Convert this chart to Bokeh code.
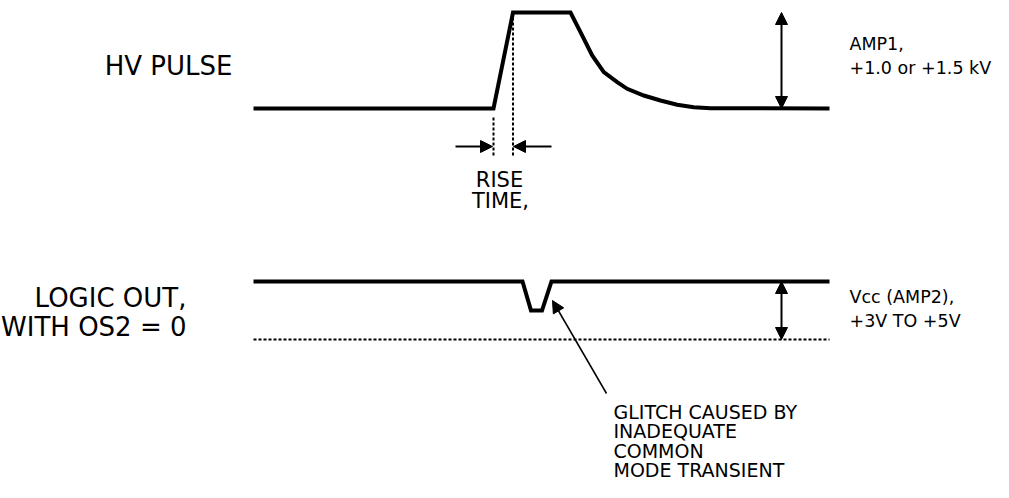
from bokeh.plotting import figure
from bokeh.models import Range1d, Arrow, NormalHead, ColumnDataSource
from bokeh.core.properties import value
from bokeh.embed import file_html
from bokeh.resources import INLINE

# ---- data (in page pixels) ----
hv_x = [253, 493, 512.5, 570, 580, 591.7, 603.3, 616.7, 626.7, 643.3, 660, 676.7, 693.3, 710, 829]
hv_y = [108, 108, 12, 12, 31.7, 55, 71.7, 81.7, 88.3, 95, 100, 104.3, 106.7, 107.7, 108]

logic_x = [253, 522, 530.5, 541.5, 551, 829]
logic_y = [281, 281, 310, 310, 281, 281]

ground_x = [253, 829]
ground_y = [339, 339]

rise_marks_x = [493, 512.5]
rise_marks_top = [117, 12]
rise_marks_bottom = [157, 157]

amp_arrows_x = [781, 781]
amp_arrows_y0 = [12, 281]
amp_arrows_y1 = [108, 339]

rise_arrows_x0 = [455, 551]
rise_arrows_x1 = [492, 513]
rise_arrows_y = [146, 146]

glitch_arrow = dict(x0=606, y0=393, x1=552, y1=300)

left_labels = ["HV PULSE", "LOGIC OUT,", "WITH OS2 = 0"]
left_x = [232, 186, 186]
left_y = [65.5, 297.5, 326.5]

right_labels = ["AMP1,", "+1.0 or +1.5 kV", "Vcc (AMP2),", "+3V TO +5V"]
right_x = [849, 849, 849, 849]
right_y = [43, 67.5, 296, 320]

rise_labels = ["RISE", "TIME,"]
rise_x = [499, 500]
rise_y = [179.5, 200]

glitch_labels = ["GLITCH CAUSED BY", "INADEQUATE", "COMMON", "MODE TRANSIENT"]
glitch_x = [613, 613, 613, 613]
glitch_y = [411, 430.5, 450, 469.5]

FONT = value("DejaVu Sans")

W, H = 993, 482
p = figure(width=W, height=H, x_range=Range1d(0, W), y_range=Range1d(H, 0),
           output_backend="svg", toolbar_location=None, min_border=0,
           x_axis_location=None, y_axis_location=None)
p.grid.visible = False
p.outline_line_color = None
p.background_fill_color = "white"
p.border_fill_color = "white"

# waveforms
p.line(hv_x, hv_y, line_width=4, line_color="black", line_join="miter")
p.line(logic_x, logic_y, line_width=4, line_color="black", line_join="miter")
p.line(ground_x, ground_y, line_width=2, line_color="black", line_dash="3 2")

# rise time markers
p.segment(x0=rise_marks_x, y0=rise_marks_top, x1=rise_marks_x, y1=rise_marks_bottom,
          line_width=2, line_color="black", line_dash="3 2")

def head():
    return NormalHead(size=12, fill_color="black", line_color="black", line_width=1)

amp_src = ColumnDataSource(dict(x0=amp_arrows_x, y0=amp_arrows_y0, x1=amp_arrows_x, y1=amp_arrows_y1))
p.add_layout(Arrow(start=head(), end=head(), x_start="x0", y_start="y0", x_end="x1", y_end="y1",
                   source=amp_src, line_width=2, line_color="black"))

rise_src = ColumnDataSource(dict(x0=rise_arrows_x0, y0=rise_arrows_y, x1=rise_arrows_x1, y1=rise_arrows_y))
p.add_layout(Arrow(end=head(), x_start="x0", y_start="y0", x_end="x1", y_end="y1",
                   source=rise_src, line_width=2, line_color="black"))

p.add_layout(Arrow(end=head(), x_start=glitch_arrow["x0"], y_start=glitch_arrow["y0"],
                   x_end=glitch_arrow["x1"], y_end=glitch_arrow["y1"],
                   line_width=1.5, line_color="black"))

# labels
p.text(x=left_x, y=left_y, text=left_labels, text_font=FONT, text_font_size=value("26px"),
       text_align="right", text_baseline="middle", text_color="black")
p.text(x=right_x, y=right_y, text=right_labels, text_font=FONT, text_font_size=value("17.5px"),
       text_align="left", text_baseline="middle", text_color="black")
p.text(x=rise_x, y=rise_y, text=rise_labels, text_font=FONT, text_font_size=value("21px"),
       text_align="center", text_baseline="middle", text_color="black")
p.text(x=glitch_x, y=glitch_y, text=glitch_labels, text_font=FONT, text_font_size=value("19px"),
       text_align="left", text_baseline="middle", text_color="black")

open("out.html", "w").write(file_html(p, INLINE))
